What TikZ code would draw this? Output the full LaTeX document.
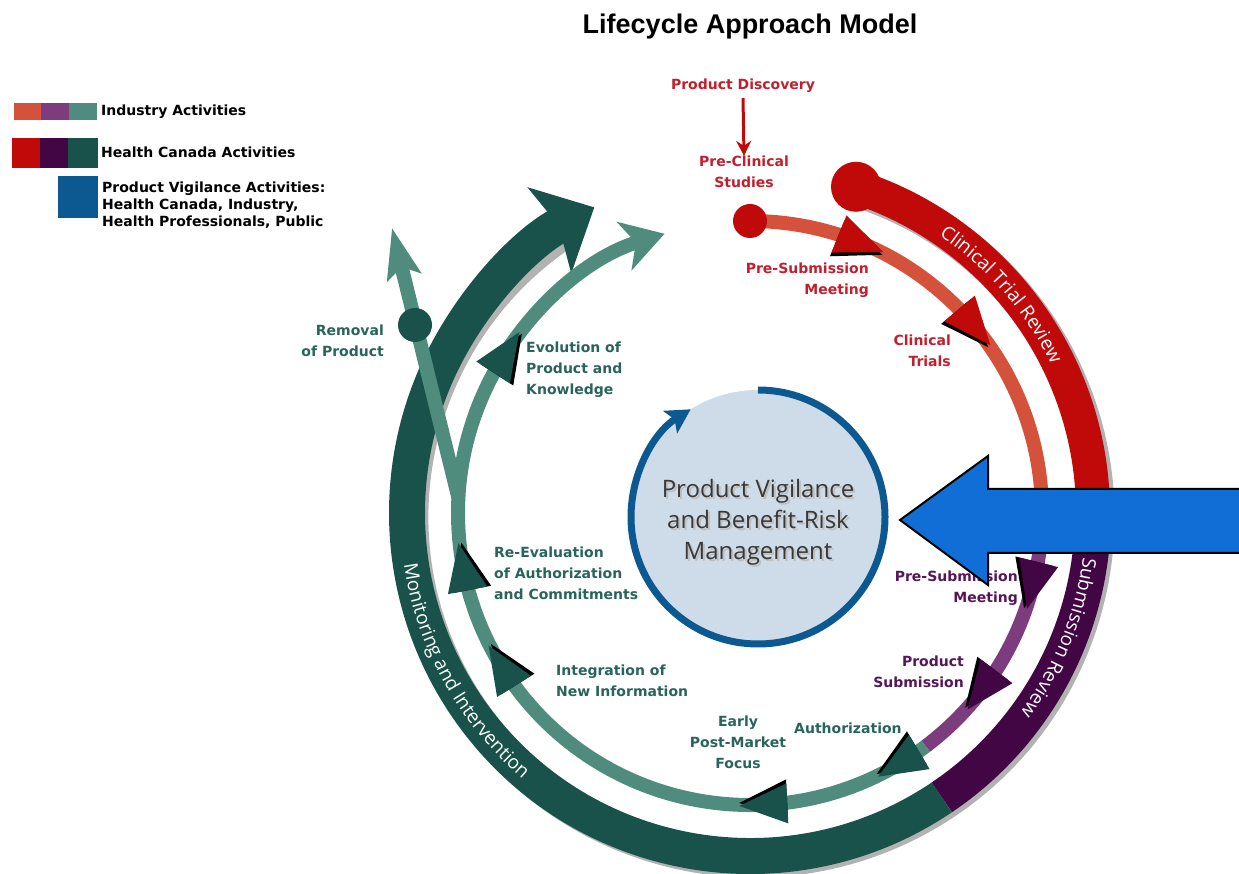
\documentclass[tikz,border=0pt]{standalone}
\usepackage{fontspec}
\setmainfont{Open Sans}
\newfontfamily\labelfont{DejaVu Sans}
\newfontfamily\titlefont{Liberation Sans}
\usetikzlibrary{arrows.meta,decorations.text}

\definecolor{indred}{RGB}{212,82,60}
\definecolor{indpurple}{RGB}{125,60,125}
\definecolor{indteal}{RGB}{80,140,126}
\definecolor{hcred}{RGB}{192,10,10}
\definecolor{hcpurple}{RGB}{66,6,68}
\definecolor{hcgreen}{RGB}{24,82,74}
\definecolor{vigblue}{RGB}{11,89,144}
\definecolor{pvfill}{RGB}{206,219,232}
\definecolor{callblue}{RGB}{18,110,215}
\definecolor{redtext}{RGB}{195,30,45}
\definecolor{purpletext}{RGB}{88,20,88}
\definecolor{tealtext}{RGB}{40,100,90}

\newcommand\bandfont{\fontsize{19}{19}\selectfont}

% arrowhead sitting on the inner ring, pointing clockwise
\newcommand\ringtip[2]{%
  \begin{scope}[shift={(#1:292)}, rotate=#1-90]
    \fill[black] (26,-3) -- (-22,15) -- (-22,-24) -- cycle;
    \fill[#2] (26,0) -- (-22,20) -- (-22,-20) -- cycle;
  \end{scope}}

\tikzset{
  lbl/.style={font=\labelfont\fontsize{14}{21}\selectfont\bfseries, inner sep=0pt},
  legtxt/.style={font=\labelfont\fontsize{14}{17}\selectfont\bfseries, anchor=west, align=left, inner sep=0pt}
}

\begin{document}
\begin{tikzpicture}[x=1pt,y=1pt]
\useasboundingbox (0,0) rectangle (1239,873);

\node (title) at (750,846) {\titlefont\fontsize{27}{27}\selectfont\bfseries Lifecycle Approach Model};

% legend
\fill[indred] (14,753) rectangle (41,770);
\fill[indpurple] (41,753) rectangle (69,770);
\fill[indteal] (69,753) rectangle (97,770);
\node[legtxt] (legind) at (101,761) {Industry Activities};
\fill[hcred] (12,705) rectangle (40,735);
\fill[hcpurple] (40,705) rectangle (68,735);
\fill[hcgreen] (68,705) rectangle (98,735);
\node[legtxt] (leghc) at (101,721) {Health Canada Activities};
\fill[vigblue] (58,655) rectangle (98,697);
\node[legtxt] (legpv) at (102,668) {Product Vigilance Activities:\\Health Canada, Industry,\\Health Professionals, Public};

\begin{scope}[shift={(750,360)}]
  % outer ring: review and monitoring
  \draw[line width=35pt, black!30, shift={(4,-4)}] (72:343) arc[start angle=72, end angle=-236, radius=343];
  \draw[line width=34pt, hcred] (72:343) arc[start angle=72, end angle=0, radius=343];
  \draw[line width=36pt, hcpurple] (0:343) arc[start angle=0, end angle=-56, radius=343];
  \draw[line width=36pt, hcgreen, -{Stealth[length=50pt,width=95pt,inset=10pt]}] (-56:343) arc[start angle=-56, end angle=-243, radius=343];
  \fill[hcred] (72:343) circle (25);

  \path[decorate, decoration={text along path, text color=white, text align=center,
      text={|\bandfont|Clinical Trial Review}}]
    (62:336) arc[start angle=62, end angle=20, radius=336];
  \path[decorate, decoration={text along path, text color=white, text align=center,
      text={|\bandfont|Submission Review}}]
    (-2:336) arc[start angle=-2, end angle=-42, radius=336];
  \path[decorate, decoration={text along path, text color=white, text align=center,
      text={|\bandfont|Monitoring and Intervention}}]
    (182:350) arc[start angle=182, end angle=236, radius=350];

  % inner ring: activities
  \draw[line width=14pt, indred] (90:292) arc[start angle=90, end angle=0, radius=292];
  \draw[line width=14pt, indpurple] (0:292) arc[start angle=0, end angle=-53, radius=292];
  \draw[line width=14pt, indteal, -{Stealth[length=42pt,width=50pt,inset=12pt]}] (-53:292) arc[start angle=-53, end angle=-253, radius=292];
  \fill[hcred] (90:292) circle (17);

  % removal branch
  \coordinate (rmstart) at (177:292);
  \coordinate (rmend) at (-358,285);
  \coordinate (rmdot) at (-335,188);
  \draw[line width=14pt, indteal, -{Stealth[length=50pt,width=34pt,inset=10pt]}] (rmstart) -- (rmend);
  \fill[hcgreen] (rmdot) circle (17);

  \ringtip{68}{hcred}
  \ringtip{40}{hcred}
  \ringtip{-14}{hcpurple}
  \ringtip{-37}{hcpurple}
  \ringtip{-59}{hcgreen}
  \ringtip{-87}{hcgreen}
  \ringtip{-148}{hcgreen}
  \ringtip{-169}{hcgreen}
  \ringtip{147}{hcgreen}
\end{scope}

% centre
\begin{scope}[shift={(758,356)}]
  \fill[pvfill] (0,0) circle (127);
  \draw[vigblue, line width=7pt, -{Stealth[length=24pt,width=26pt,inset=5pt]}] (90:127) arc[start angle=90, end angle=-238, radius=127];
\end{scope}
\node[font=\fontsize{24}{31}\selectfont, align=center, text=black!25] (pvshadow) at (760,349) {Product Vigilance\\and Benefit-Risk\\Management};
\node[font=\fontsize{24}{31}\selectfont, align=center, text=black!78] (pv) at (758,351) {Product Vigilance\\and Benefit-Risk\\Management};

% labels
\node[lbl, text=redtext] (discovery) at (743,787) {Product Discovery};
\node[lbl, text=redtext, align=center] (preclin) at (744,701) {Pre-Clinical\\Studies};
\draw[hcred, line width=3pt, -{Stealth[length=15pt,width=15pt]}] (discovery.south) ++(0,-5) -- (preclin.north);
\node[lbl, text=redtext, align=right, anchor=east] (presubA) at (869,593) {Pre-Submission\\Meeting};
\node[lbl, text=redtext, align=right, anchor=east] (trials) at (951,522) {Clinical\\Trials};
\node[lbl, text=purpletext, align=right, anchor=east] (presubB) at (1018,285) {Pre-Submission\\Meeting};
\node[lbl, text=purpletext, align=right, anchor=east] (submission) at (964,201) {Product\\Submission};
\node[lbl, text=tealtext, anchor=west] (authorization) at (794,145) {Authorization};
\node[lbl, text=tealtext, align=center] (early) at (738,131) {Early\\Post-Market\\Focus};
\node[lbl, text=tealtext, align=left, anchor=west] (integration) at (556,192) {Integration of\\New Information};
\node[lbl, text=tealtext, align=left, anchor=west] (reeval) at (494,300) {Re-Evaluation\\of Authorization\\and Commitments};
\node[lbl, text=tealtext, align=left, anchor=west] (evolution) at (526,503) {Evolution of\\Product and\\Knowledge};
\node[lbl, text=tealtext, align=right, anchor=east] (removal) at (384,532) {Removal\\of Product};

% vigilance input
\draw[fill=callblue, line width=2pt, line join=miter] (1245,384) -- (988,384) -- (988,417) -- (900,353) -- (988,288) -- (988,320) -- (1245,320);
\end{tikzpicture}
\end{document}
